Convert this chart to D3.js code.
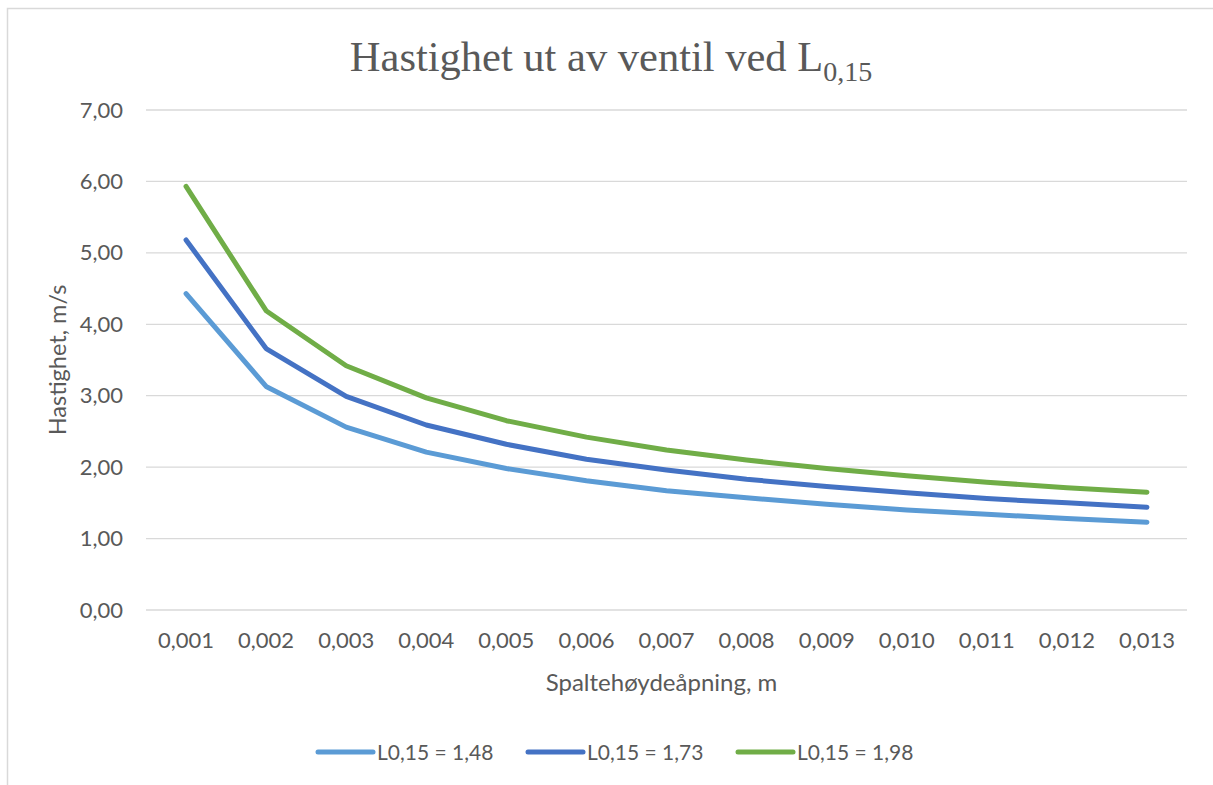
<!DOCTYPE html>
<html>
<head>
<meta charset="utf-8">
<script src="https://cdn.jsdelivr.net/npm/d3@7"></script>
<style>
  html, body { margin: 0; padding: 0; background: #fff; }
  svg { display: block; }
</style>
</head>
<body>
<svg id="chart" width="1213" height="785"></svg>
<script>
// Opening heights (m) along the x axis
const openings = ["0,001","0,002","0,003","0,004","0,005","0,006","0,007","0,008","0,009","0,010","0,011","0,012","0,013"];

// Velocity out of the valve (m/s) for each loss coefficient
const speedL148 = [4.43, 3.13, 2.56, 2.21, 1.98, 1.81, 1.67, 1.57, 1.48, 1.40, 1.34, 1.28, 1.23];
const speedL173 = [5.18, 3.66, 2.99, 2.59, 2.32, 2.11, 1.96, 1.83, 1.73, 1.64, 1.56, 1.50, 1.44];
const speedL198 = [5.93, 4.19, 3.42, 2.97, 2.65, 2.42, 2.24, 2.10, 1.98, 1.88, 1.79, 1.71, 1.65];

const seriesNames = ["L0,15 = 1,48", "L0,15 = 1,73", "L0,15 = 1,98"];
const seriesColors = ["#5B9BD5", "#4472C4", "#70AD47"];
const yTicks = [0, 1, 2, 3, 4, 5, 6, 7];

const series = [speedL148, speedL173, speedL198].map((vals, i) => ({
  name: seriesNames[i], color: seriesColors[i], values: vals
}));

const svg = d3.select("#chart");
const textColor = "#595959";
const sansFont = "Lato, 'Open Sans', 'Noto Sans', sans-serif";

// Chart frame
svg.append("path")
  .attr("d", "M7.5,785 L7.5,8.5 L1213,8.5")
  .attr("fill", "none")
  .attr("stroke", "#d9d9d9")
  .attr("stroke-width", 1.5);

const plot = { left: 146, right: 1187, top: 110, bottom: 610 };

const x = d3.scaleBand().domain(openings).range([plot.left, plot.right]);
const y = d3.scaleLinear().domain([0, 7]).range([plot.bottom, plot.top]);

// Horizontal gridlines
svg.append("g")
  .selectAll("line")
  .data(yTicks)
  .join("line")
  .attr("x1", plot.left).attr("x2", plot.right)
  .attr("y1", d => y(d)).attr("y2", d => y(d))
  .attr("stroke", "#d9d9d9")
  .attr("stroke-width", 1.3);

// Y axis tick labels
const fmt = d => d.toFixed(2).replace(".", ",");
const yAxis = d3.axisLeft(y).tickValues(yTicks).tickFormat(fmt).tickSize(0).tickPadding(23);
const yg = svg.append("g").attr("transform", `translate(${plot.left},0)`).call(yAxis);
yg.select(".domain").remove();
yg.selectAll("text")
  .attr("fill", textColor)
  .attr("font-family", sansFont)
  .attr("font-size", 22);

// X axis tick labels
const xAxis = d3.axisBottom(x).tickSize(0).tickPadding(22);
const xg = svg.append("g").attr("transform", `translate(0,${plot.bottom})`).call(xAxis);
xg.select(".domain").remove();
xg.selectAll("text")
  .attr("fill", textColor)
  .attr("font-family", sansFont)
  .attr("font-size", 22);

// Lines
const line = d3.line()
  .x((d, i) => x(openings[i]) + x.bandwidth() / 2)
  .y(d => y(d));

svg.append("g")
  .selectAll("path")
  .data(series)
  .join("path")
  .attr("d", d => line(d.values))
  .attr("fill", "none")
  .attr("stroke", d => d.color)
  .attr("stroke-width", 5)
  .attr("stroke-linecap", "round")
  .attr("stroke-linejoin", "round");

// Title with subscript
const title = svg.append("text")
  .attr("x", 611)
  .attr("y", 71)
  .attr("text-anchor", "middle")
  .attr("fill", textColor)
  .attr("font-family", "'Liberation Serif', 'Times New Roman', serif")
  .attr("font-size", 42.5);
title.append("tspan").text("Hastighet ut av ventil ved L");
title.append("tspan").attr("font-size", 28).attr("dy", 10).text("0,15");

// Axis titles
svg.append("text")
  .attr("x", (plot.left + plot.right) / 2 - 5)
  .attr("y", 691)
  .attr("text-anchor", "middle")
  .attr("fill", textColor)
  .attr("font-family", sansFont)
  .attr("font-size", 24)
  .text("Spaltehøydeåpning, m");

svg.append("text")
  .attr("transform", `translate(66,${(plot.top + plot.bottom) / 2}) rotate(-90)`)
  .attr("text-anchor", "middle")
  .attr("fill", textColor)
  .attr("font-family", sansFont)
  .attr("font-size", 23.5)
  .text("Hastighet, m/s");

// Legend
const legendX = [318, 528, 738];
const legend = svg.append("g")
  .selectAll("g")
  .data(series)
  .join("g")
  .attr("transform", (d, i) => `translate(${legendX[i]},752)`);
legend.append("line")
  .attr("x1", 0).attr("x2", 55)
  .attr("stroke", d => d.color)
  .attr("stroke-width", 5)
  .attr("stroke-linecap", "round");
legend.append("text")
  .attr("x", 59)
  .attr("y", 8)
  .attr("fill", textColor)
  .attr("font-family", sansFont)
  .attr("font-size", 21)
  .text(d => d.name);
</script>
</body>
</html>
